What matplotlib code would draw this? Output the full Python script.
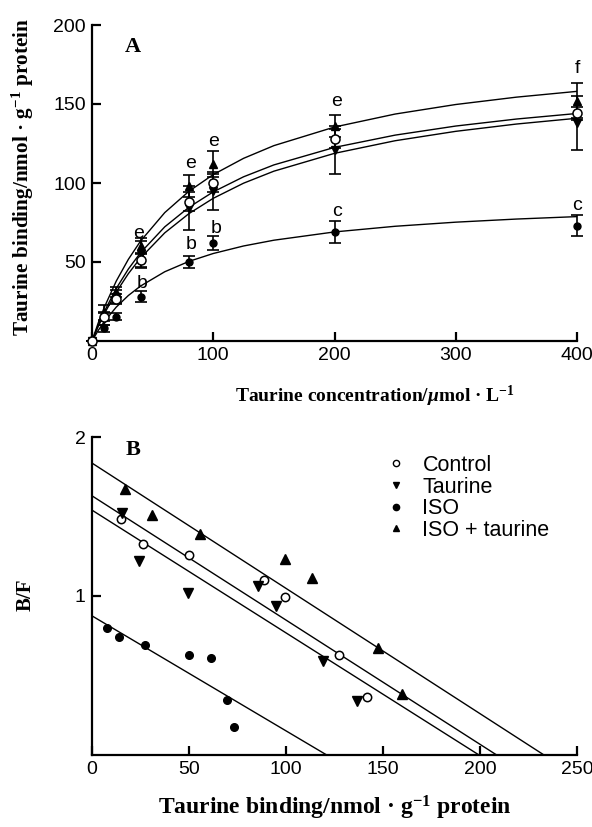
import matplotlib
matplotlib.use("Agg")
import matplotlib.pyplot as plt
from matplotlib.lines import Line2D

plt.rcParams['font.family'] = ['Liberation Sans', 'DejaVu Sans']
plt.rcParams['mathtext.fontset'] = 'custom'
plt.rcParams['mathtext.rm'] = 'Liberation Serif:bold'
plt.rcParams['mathtext.it'] = 'Liberation Serif:italic:bold'
plt.rcParams['mathtext.bf'] = 'Liberation Serif:bold'

# ---- panel A: saturation data ----
conc = [0, 10, 20, 40, 80, 100, 200, 400]
ctrl_a = [0, 15.5, 26.5, 51, 88, 100, 128, 144]
ctrl_a_err = [0, 3, 3, 5, 6, 6, 6, 4]
taur_a = [0, 14, 28, 55, 84, 95, 121, 138]
taur_a_err = [0, 4, 4, 8, 14, 12, 15, 17]
iso_a = [0, 8, 15.5, 28, 50, 62, 69, 73]
iso_a_err = [0, 2, 2, 3.5, 3.5, 4.5, 7, 6.5]
isot_a = [0, 18, 31, 60, 98, 112, 136, 152]
isot_a_err = [0, 5, 3, 5, 7, 8, 7, 11]

# fitted curves
curve_x = [0, 5, 10, 20, 30, 40, 60, 80, 100, 125, 150, 200, 250, 300, 350, 400]
curve_isot = [0, 11.15, 21.07, 37.92, 51.71, 63.2, 81.26, 94.8, 105.33, 115.61,
              123.65, 135.43, 143.64, 149.68, 154.33, 158.0]
curve_ctrl = [0, 9.70, 18.38, 33.26, 45.55, 55.87, 72.25, 84.65, 94.38, 103.93,
              111.45, 122.53, 130.30, 136.05, 140.48, 144.0]
curve_taur = [0, 8.94, 17.0, 30.96, 42.64, 52.55, 68.45, 80.65, 90.31, 99.88,
              107.48, 118.77, 126.75, 132.70, 137.31, 140.98]
curve_iso = [0, 6.51, 12.15, 21.45, 28.81, 34.76, 43.83, 50.40, 55.38, 60.14,
             63.79, 69.03, 72.61, 75.21, 77.18, 78.73]

# significance letters
sig_x = [38, 41, 81.6, 81.6, 100, 102, 201.7, 201.7, 400, 400]
sig_y = [68, 36.7, 112.5, 60.8, 126, 71.3, 151.5, 81.8, 172.6, 86]
sig_txt = ['e', 'b', 'e', 'b', 'e', 'b', 'e', 'c', 'f', 'c']

# ---- panel B: Scatchard ----
ctrl_bx = [14.9, 26.5, 50.2, 88.7, 99.5, 127.3, 141.9]
ctrl_by = [1.484, 1.33, 1.258, 1.10, 0.994, 0.632, 0.362]
taur_bx = [15.3, 24.4, 49.3, 85.4, 94.8, 119.2, 136.8]
taur_by = [1.52, 1.22, 1.02, 1.063, 0.94, 0.59, 0.34]
iso_bx = [7.6, 14.1, 27.3, 50.2, 61.2, 69.4, 73.2]
iso_by = [0.80, 0.743, 0.69, 0.628, 0.611, 0.345, 0.178]
isot_bx = [17, 30.8, 55.7, 99.5, 113.2, 147.3, 159.6]
isot_by = [1.675, 1.51, 1.39, 1.23, 1.114, 0.674, 0.383]

# regression lines: y intercept and x intercept (Bmax)
line_names = ['ISO + taurine', 'Control', 'Taurine', 'ISO']
line_b0 = [1.836, 1.63, 1.54, 0.875]
line_bmax = [233, 208.6, 199.5, 121]

W, H = 592, 827
fig = plt.figure(figsize=(W / 100, H / 100), dpi=100)

def px(x0, y0, x1, y1):
    return [x0 / W, 1 - y1 / H, (x1 - x0) / W, (y1 - y0) / H]

axA = fig.add_axes(px(92, 25, 577, 341))
axB = fig.add_axes(px(92, 437, 577, 755))

for ax in (axA, axB):
    for s in ('top', 'right'):
        ax.spines[s].set_visible(False)
    for s in ('left', 'bottom'):
        ax.spines[s].set_linewidth(1.6)
    ax.tick_params(direction='in', length=6.5, width=1.6, labelsize=14, pad=4.5)

# panel A
for cy in (curve_isot, curve_ctrl, curve_taur, curve_iso):
    axA.plot(curve_x, cy, color='black', lw=1.0, zorder=2)

ekw = dict(fmt='none', ecolor='black', elinewidth=1.2, capsize=4.5, capthick=1.2,
           zorder=3, clip_on=False)
for y, e in ((isot_a, isot_a_err), (taur_a, taur_a_err), (ctrl_a, ctrl_a_err), (iso_a, iso_a_err)):
    axA.errorbar(conc, y, yerr=e, **ekw)

axA.plot(conc, iso_a, 'o', ms=5, color='black', zorder=4, clip_on=False)
axA.plot(conc, taur_a, 'v', ms=6, color='black', zorder=4, clip_on=False)
axA.plot(conc, isot_a, '^', ms=6, color='black', zorder=4, clip_on=False)
axA.plot(conc, ctrl_a, 'o', ms=6.5, mfc='white', mec='black', mew=1.1, zorder=5, clip_on=False)

for x, y, t in zip(sig_x, sig_y, sig_txt):
    axA.text(x, y, t, fontsize=14, ha='center', va='center', zorder=6)

axA.set_xlim(0, 400)
axA.set_ylim(0, 200)
axA.set_xticks([0, 100, 200, 300, 400])
axA.set_yticks([50, 100, 150, 200])

# panel B
for b0, bm in zip(line_b0, line_bmax):
    axB.plot([0, bm], [b0, 0], color='black', lw=1.0, zorder=2)

axB.plot(ctrl_bx, ctrl_by, 'o', ms=6, mfc='white', mec='black', mew=1.1, zorder=4)
axB.plot(taur_bx, taur_by, 'v', ms=6.5, color='black', zorder=4)
axB.plot(iso_bx, iso_by, 'o', ms=5.5, color='black', zorder=4)
axB.plot(isot_bx, isot_by, '^', ms=6.5, color='black', zorder=4)

axB.set_xlim(0, 250)
axB.set_ylim(0, 2)
axB.set_xticks([0, 50, 100, 150, 200, 250])
axB.set_yticks([1, 2])

handles = [
    Line2D([], [], ls='none', marker='o', ms=4.5, mfc='white', mec='black', mew=1.0),
    Line2D([], [], ls='none', marker='v', ms=5, color='black'),
    Line2D([], [], ls='none', marker='o', ms=4.5, color='black'),
    Line2D([], [], ls='none', marker='^', ms=5, color='black'),
]
axB.legend(handles, ['Control', 'Taurine', 'ISO', 'ISO + taurine'],
           loc='upper left', bbox_to_anchor=(385 / W, 1 - 455 / H),
           bbox_transform=fig.transFigure, frameon=False, fontsize=15.5,
           handlelength=1.0, handletextpad=0.74, borderpad=0, borderaxespad=0,
           labelspacing=0.03)

# labels
serif = dict(family='Liberation Serif', weight='bold')
fig.text(23 / W, 1 - 177 / H, 'Taurine binding/nmol · g$^{-1}$ protein',
         rotation=90, ha='center', va='center', fontsize=15.3, **serif)
fig.text(375 / W, 1 - 396 / H, 'Taurine concentration/$\\mu$mol · L$^{-1}$',
         ha='center', va='center', fontsize=14, **serif)
fig.text(26 / W, 1 - 595 / H, 'B/F', rotation=90, ha='center', va='center',
         fontsize=15, **serif)
fig.text(335 / W, 1 - 808 / H, 'Taurine binding/nmol · g$^{-1}$ protein',
         ha='center', va='center', fontsize=17, **serif)
fig.text(125 / W, 1 - 52 / H, 'A', ha='left', va='baseline', fontsize=16, **serif)
fig.text(126 / W, 1 - 455 / H, 'B', ha='left', va='baseline', fontsize=16, **serif)

fig.savefig('out.png', dpi=100)
